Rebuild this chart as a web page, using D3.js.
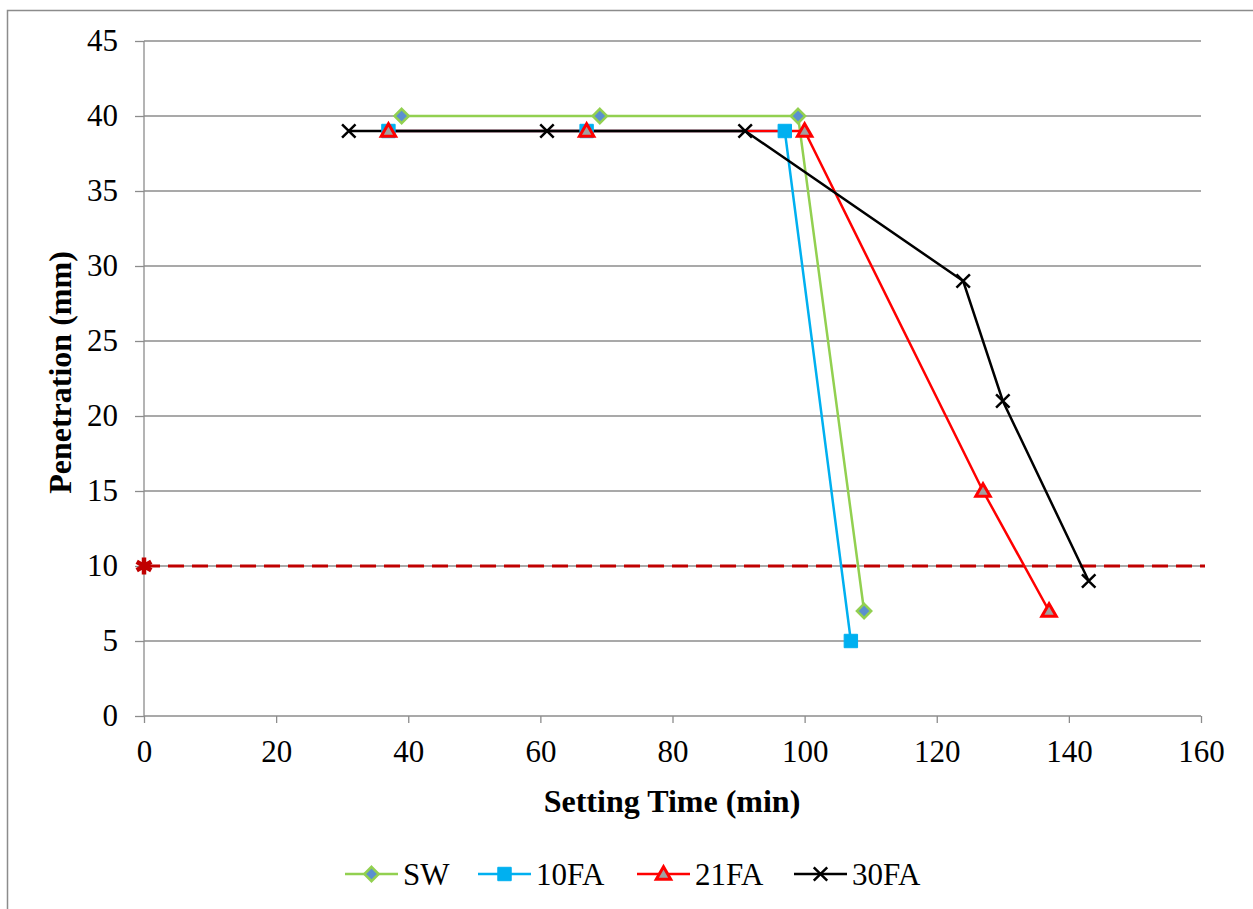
<!DOCTYPE html>
<html><head><meta charset="utf-8">
<script src="https://cdn.jsdelivr.net/npm/d3@7"></script>
<style>body{margin:0;background:#fff}svg{display:block}</style>
</head><body><svg id="c" width="1253" height="909"></svg>
<script>
const xTicks=[0,20,40,60,80,100,120,140,160];
const yTicks=[0,5,10,15,20,25,30,35,40,45];
const swX=[39,69,99,109], swY=[40,40,40,7];
const fa10X=[37,67,97,107], fa10Y=[39,39,39,5];
const fa21X=[37,67,100,127,137], fa21Y=[39,39,39,15,7];
const fa30X=[31,61,91,124,130,143], fa30Y=[39,39,39,29,21,9];
const limitY=10, limitX=[0,160];
const seriesNames=["SW","10FA","21FA","30FA"];

const FONT='"Liberation Serif","Times New Roman",serif';
const svg=d3.select("#c");
const L=144,R=1201,T=41,B=716;
const x=d3.scaleLinear().domain([0,160]).range([L,R]);
const y=d3.scaleLinear().domain([0,45]).range([B,T]);
const grey="#8c8c8c";
svg.append("rect").attr("x",7.5).attr("y",10.5).attr("width",1260).attr("height",920).attr("fill","none").attr("stroke",grey).attr("stroke-width",1.5);

svg.append("g").selectAll("line").data(yTicks.filter(d=>d>0)).join("line")
 .attr("x1",L).attr("x2",R).attr("y1",d=>y(d)).attr("y2",d=>y(d)).attr("stroke",grey).attr("stroke-width",1.3);

const yAxis=svg.append("g").attr("transform",`translate(${L},0)`).call(d3.axisLeft(y).tickValues(yTicks).tickSize(9).tickPadding(17));
const xAxis=svg.append("g").attr("transform",`translate(0,${B})`).call(d3.axisBottom(x).tickValues(xTicks).tickSize(7).tickPadding(17));
[yAxis,xAxis].forEach(a=>{a.attr("font-family",null).attr("font-size",null);
 a.selectAll("path,line").attr("stroke",grey).attr("stroke-width",1.3);
 a.selectAll("text").style("font-size","31px").style("font-family",FONT).attr("fill","#000");});
xAxis.select(".domain").attr("d",`M${L},0H${R}`);
yAxis.select(".domain").attr("d",`M0,${B}V${T}`);

svg.append("text").attr("x",672).attr("y",812).attr("text-anchor","middle").style("font-size","32px").style("font-family",FONT).attr("font-weight","bold").text("Setting Time (min)");
svg.append("text").attr("transform",`translate(71,${(T+B)/2-6}) rotate(-90)`).attr("text-anchor","middle").style("font-size","32px").style("font-family",FONT).attr("font-weight","bold").text("Penetration (mm)");

svg.append("line").attr("x1",x(limitX[0])).attr("x2",x(limitX[1])+4).attr("y1",y(limitY)).attr("y2",y(limitY))
 .attr("stroke","#c00000").attr("stroke-width",3).attr("stroke-dasharray","16,8");
svg.append("path").attr("d",d3.symbol(d3.symbolAsterisk,200)()).attr("transform",`translate(${x(0)},${y(limitY)})`).attr("stroke","#c00000").attr("stroke-width",4.5).attr("fill","none");

const line=d3.line().x(d=>x(d[0])).y(d=>y(d[1]));
const series=[
 {xs:swX,ys:swY,color:"#92d050",sym:d3.symbolDiamond2,size:130,fill:"#5b8fd0",stroke:"#92d050",sw:2.5},
 {xs:fa10X,ys:fa10Y,color:"#00b0f0",sym:d3.symbolSquare,size:180,fill:"#00b0f0",stroke:"#00b0f0",sw:1},
 {xs:fa21X,ys:fa21Y,color:"#ff0000",sym:d3.symbolTriangle,size:90,fill:"#a0a0a0",stroke:"#ff0000",sw:3},
 {xs:fa30X,ys:fa30Y,color:"#000000",sym:d3.symbolTimes,size:120,fill:"none",stroke:"#000",sw:2.5}
];
series.forEach(s=>{
 const pts=s.xs.map((v,i)=>[v,s.ys[i]]);
 svg.append("path").datum(pts).attr("d",line).attr("fill","none").attr("stroke",s.color).attr("stroke-width",2.5);
});
series.forEach(s=>{
 const pts=s.xs.map((v,i)=>[v,s.ys[i]]);
 svg.append("g").selectAll("path").data(pts).join("path")
  .attr("d",d3.symbol(s.sym,s.size)()).attr("transform",d=>`translate(${x(d[0])},${y(d[1])+(s.sym===d3.symbolTriangle?1:0)})`)
  .attr("fill",s.fill).attr("stroke",s.stroke).attr("stroke-width",s.sw);
});

const legX=[345,478,637,794];
series.forEach((s,i)=>{
 const g=svg.append("g").attr("transform",`translate(${legX[i]},874)`);
 g.append("line").attr("x1",0).attr("x2",53).attr("stroke",s.color).attr("stroke-width",2.5);
 g.append("path").attr("d",d3.symbol(s.sym,s.size)()).attr("transform",`translate(26.5,${s.sym===d3.symbolTriangle?1:0})`).attr("fill",s.fill).attr("stroke",s.stroke).attr("stroke-width",s.sw);
 g.append("text").attr("x",58).attr("y",11).style("font-size","31px").style("font-family",FONT).text(seriesNames[i]);
});
</script></body></html>
